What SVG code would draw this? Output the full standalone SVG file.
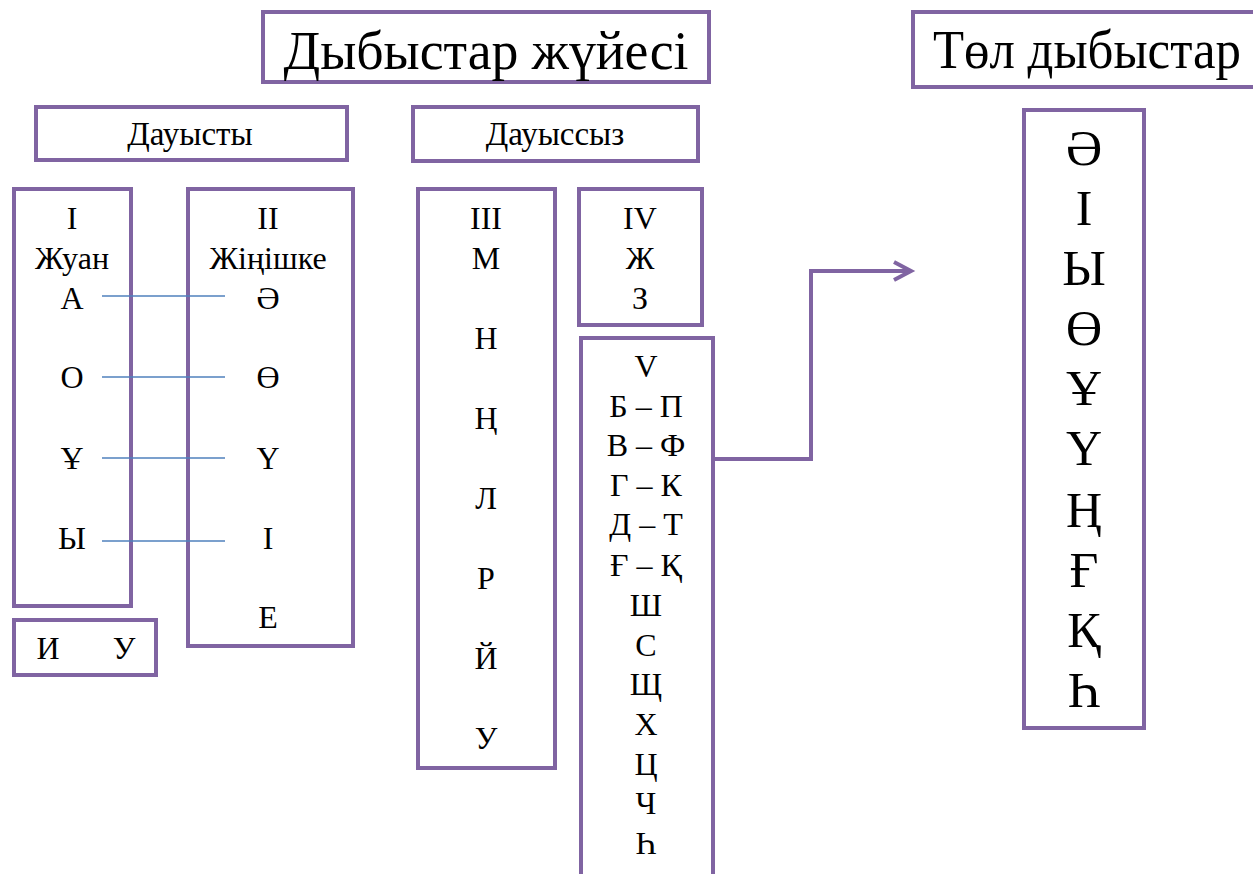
<svg xmlns="http://www.w3.org/2000/svg" width="1253" height="874" viewBox="0 0 1253 874">
<style>
.box{fill:#fff;stroke:#8064A2;stroke-width:4}
text{font-family:"Liberation Serif","Times New Roman",serif;fill:#000;text-anchor:middle}
.big{font-size:54px}
.mid{font-size:33px}
.sm{font-size:32px}
.let{font-size:50px}
.link{stroke:#4F81BD;stroke-width:1.5}
.conn{fill:none;stroke:#8064A2;stroke-width:4}
</style>
<rect width="1253" height="874" fill="#fff"/>
<g id="title">
<rect class="box" x="263" y="12" width="446" height="70"/>
<text class="big" x="486" y="69" textLength="405" lengthAdjust="spacingAndGlyphs">Дыбыстар жүйесі</text>
</g>
<g id="tol-title">
<rect class="box" x="913" y="12" width="345" height="75"/>
<text class="big" x="1087" y="68" textLength="308" lengthAdjust="spacingAndGlyphs">Төл дыбыстар</text>
</g>
<g id="dauysty">
<rect class="box" x="36" y="107" width="311" height="53"/>
<text class="mid" x="190" y="145">Дауысты</text>
</g>
<g id="dauyssyz">
<rect class="box" x="413" y="107" width="285" height="54"/>
<text class="mid" x="555" y="145">Дауыссыз</text>
</g>
<g id="group-I">
<rect class="box" x="14" y="189" width="117" height="417"/>
<text class="sm" x="72" y="229">I</text>
<text class="sm" x="72" y="269">Жуан</text>
<text class="sm" x="72" y="309">А</text>
<text class="sm" x="72" y="388">О</text>
<text class="sm" x="72" y="469">Ұ</text>
<text class="sm" x="72" y="549">Ы</text>
</g>
<g id="group-II">
<rect class="box" x="188" y="189" width="165" height="457"/>
<text class="sm" x="268" y="229">II</text>
<text class="sm" x="268" y="269">Жіңішке</text>
<text class="sm" x="268" y="309">Ә</text>
<text class="sm" x="268" y="388">Ө</text>
<text class="sm" x="268" y="469">Ү</text>
<text class="sm" x="268" y="549">І</text>
<text class="sm" x="268" y="628">Е</text>
</g>
<g id="group-IU">
<rect class="box" x="14" y="620" width="142" height="55"/>
<text class="sm" x="48" y="659">И</text>
<text class="sm" x="124" y="659">У</text>
</g>
<g id="group-III">
<rect class="box" x="418" y="189" width="137" height="579"/>
<text class="sm" x="486" y="229">III</text>
<text class="sm" x="486" y="269">М</text>
<text class="sm" x="486" y="349">Н</text>
<text class="sm" x="486" y="429">Ң</text>
<text class="sm" x="486" y="509">Л</text>
<text class="sm" x="486" y="589">Р</text>
<text class="sm" x="486" y="669">Й</text>
<text class="sm" x="486" y="749">У</text>
</g>
<g id="group-IV">
<rect class="box" x="579" y="189" width="123" height="136"/>
<text class="sm" x="640" y="229">IV</text>
<text class="sm" x="640" y="269">Ж</text>
<text class="sm" x="640" y="309">З</text>
</g>
<g id="group-V">
<rect class="box" x="581" y="338" width="132" height="560"/>
<text class="sm" x="646" y="377">V</text>
<text class="sm" x="646" y="417">Б – П</text>
<text class="sm" x="646" y="456">В – Ф</text>
<text class="sm" x="646" y="496">Г – К</text>
<text class="sm" x="646" y="535">Д – Т</text>
<text class="sm" x="646" y="576">Ғ – Қ</text>
<text class="sm" x="646" y="616">Ш</text>
<text class="sm" x="646" y="656">С</text>
<text class="sm" x="646" y="695">Щ</text>
<text class="sm" x="646" y="735">Х</text>
<text class="sm" x="646" y="775">Ц</text>
<text class="sm" x="646" y="814">Ч</text>
<text class="sm" x="646" y="854">Һ</text>
</g>
<g id="tol-letters">
<rect class="box" x="1024" y="110" width="120" height="618"/>
<text class="let" x="1084" y="165">Ә</text>
<text class="let" x="1084" y="225">І</text>
<text class="let" x="1084" y="285">Ы</text>
<text class="let" x="1084" y="345">Ө</text>
<text class="let" x="1084" y="405">Ұ</text>
<text class="let" x="1084" y="465">Ү</text>
<text class="let" x="1084" y="527">Ң</text>
<text class="let" x="1084" y="587">Ғ</text>
<text class="let" x="1084" y="647">Қ</text>
<text class="let" x="1084" y="707">Һ</text>
</g>
<g id="connectors">
<line class="link" x1="102" y1="296" x2="225" y2="296"/>
<line class="link" x1="102" y1="377" x2="225" y2="377"/>
<line class="link" x1="102" y1="458" x2="225" y2="458"/>
<line class="link" x1="102" y1="541" x2="225" y2="541"/>
<polyline class="conn" points="713,459 811,459 811,271 910,271"/>
<polyline class="conn" points="894,262 911,271 894,280"/>
</g>
</svg>
